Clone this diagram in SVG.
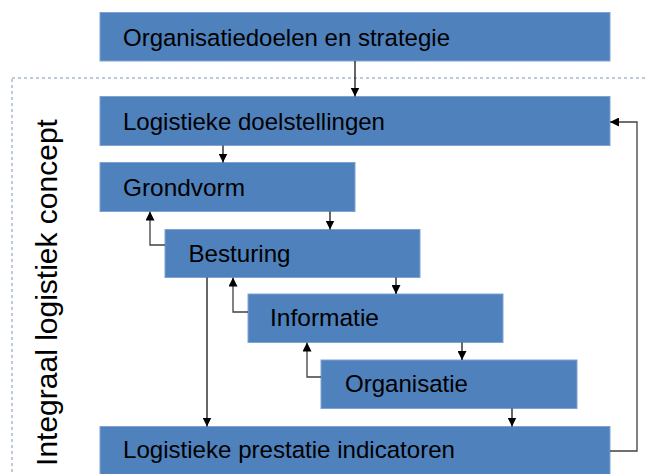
<svg xmlns="http://www.w3.org/2000/svg" width="646" height="474" viewBox="0 0 646 474">
<defs>
<style>
.box{fill:#4f81bd;stroke:#7fa3d1;stroke-width:1}
.lbl{font-family:"Liberation Sans",Arial,sans-serif;font-size:24.5px;fill:#000}
.ln{fill:none;stroke:#000;stroke-width:1.2}
.fb{fill:none;stroke:#404040;stroke-width:1.3}
</style>
<marker id="ah" viewBox="0 0 10 10" refX="10" refY="5" markerWidth="9" markerHeight="9" markerUnits="userSpaceOnUse" orient="auto">
<path d="M0,0 L10,5 L0,10 z" fill="#000"/>
</marker>
</defs>
<rect x="12" y="78" width="640" height="400" fill="none" stroke="#7a96b8" stroke-width="1" stroke-dasharray="3,3"/>
<text class="lbl" style="font-size:30px" transform="translate(57,292.5) rotate(-90)" text-anchor="middle">Integraal logistiek concept</text>
<g id="n1"><rect class="box" x="100" y="12.5" width="510" height="48.5"/><text class="lbl" x="123" y="46" textLength="327" lengthAdjust="spacingAndGlyphs">Organisatiedoelen en strategie</text></g>
<g id="n2"><rect class="box" x="100" y="96.5" width="510" height="49"/><text class="lbl" x="123" y="130" textLength="262" lengthAdjust="spacingAndGlyphs">Logistieke doelstellingen</text></g>
<g id="n3"><rect class="box" x="100" y="162.5" width="255" height="49"/><text class="lbl" x="123" y="196" textLength="122" lengthAdjust="spacingAndGlyphs">Grondvorm</text></g>
<g id="n4"><rect class="box" x="165" y="229.5" width="255" height="48"/><text class="lbl" x="188.5" y="262" textLength="102" lengthAdjust="spacingAndGlyphs">Besturing</text></g>
<g id="n5"><rect class="box" x="248" y="294" width="255" height="48.5"/><text class="lbl" x="270" y="326" textLength="109" lengthAdjust="spacingAndGlyphs">Informatie</text></g>
<g id="n6"><rect class="box" x="321" y="360" width="256" height="48.5"/><text class="lbl" x="345" y="392" textLength="123" lengthAdjust="spacingAndGlyphs">Organisatie</text></g>
<g id="n7"><rect class="box" x="100" y="426.5" width="510" height="52"/><text class="lbl" x="123" y="458" textLength="332" lengthAdjust="spacingAndGlyphs">Logistieke prestatie indicatoren</text></g>
<g id="connectors">
<path class="ln" d="M355,61 V96.5" marker-end="url(#ah)"/>
<path class="ln" d="M223,145.5 V162.5" marker-end="url(#ah)"/>
<path class="ln" d="M330,211.5 V229.5" marker-end="url(#ah)"/>
<path class="ln" d="M396,277.5 V294" marker-end="url(#ah)"/>
<path class="ln" d="M462,342.5 V360" marker-end="url(#ah)"/>
<path class="ln" d="M512,408.5 V426.5" marker-end="url(#ah)"/>
<path class="ln" d="M207,277.5 V426.5" marker-end="url(#ah)"/>
<path class="fb" d="M165,245 H150 V211.5" marker-end="url(#ah)"/>
<path class="fb" d="M248,312 H233 V277.5" marker-end="url(#ah)"/>
<path class="fb" d="M321,377 H307 V342.5" marker-end="url(#ah)"/>
<path class="fb" d="M610,451 H637 V122 H610" marker-end="url(#ah)"/>
</g>
</svg>
